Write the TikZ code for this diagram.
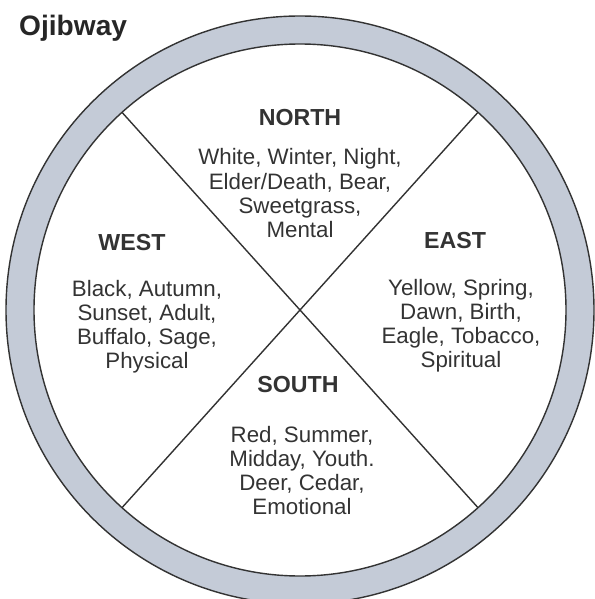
\documentclass[tikz,border=0pt]{standalone}
\usepackage{fontspec}
\setmainfont{Liberation Sans}
\usepackage{tikz}
\usetikzlibrary{positioning}
\definecolor{ringgrey}{RGB}{196,203,215}
\definecolor{inkgrey}{RGB}{51,51,51}

\begin{document}
\begin{tikzpicture}[
  head/.style={anchor=base, text=inkgrey, font=\fontsize{13.2}{14}\selectfont\bfseries},
  body/.style={anchor=base, align=center, text=inkgrey, font=\fontsize{12.7}{13.8}\selectfont}]
\useasboundingbox (-6.0,-5.78) rectangle (5.88,6.2);
\fill[ringgrey, even odd rule] (0,0) circle (5.88) (0,0) circle (5.32);
\draw[inkgrey, line width=0.8pt] (0,0) circle (5.88);
\draw[inkgrey, line width=0.8pt] (0,0) circle (5.32);
\coordinate (nw) at (132:5.32);
\coordinate (ne) at (48:5.32);
\coordinate (sw) at (228:5.32);
\coordinate (se) at (-48:5.32);
\draw[inkgrey, line width=0.8pt] (nw) -- (se);
\draw[inkgrey, line width=0.8pt] (ne) -- (sw);
\node[anchor=base west, text=black!85, font=\fontsize{16}{18}\selectfont\bfseries] (title) at (-5.74,5.48) {Ojibway};
\node[head] (north) at (0,3.69) {NORTH};
\node[body] (northtxt) at (0,1.445) {White, Winter, Night,\\Elder/Death, Bear,\\Sweetgrass,\\Mental};
\node[head] (west) at (-3.36,1.19) {WEST};
\node[body] (westtxt) at (-3.06,-1.175) {Black, Autumn,\\Sunset, Adult,\\Buffalo, Sage,\\Physical};
\node[head] (east) at (3.10,1.23) {EAST};
\node[body] (easttxt) at (3.22,-1.155) {Yellow, Spring,\\Dawn, Birth,\\Eagle, Tobacco,\\Spiritual};
\node[head] (south) at (-0.04,-1.64) {SOUTH};
\node[body] (southtxt) at (0.04,-4.095) {Red, Summer,\\Midday, Youth.\\Deer, Cedar,\\Emotional};
\end{tikzpicture}
\end{document}
